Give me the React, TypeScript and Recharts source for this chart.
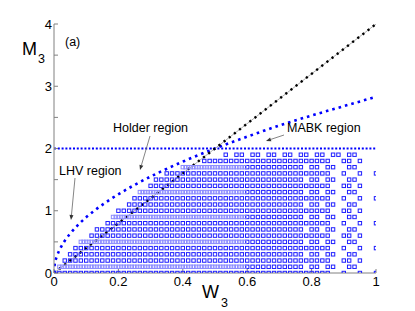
import React from 'react';
import { ComposedChart, XAxis, YAxis, Line, Scatter } from 'recharts';

const xTicks = [0, 0.2, 0.4, 0.6, 0.8, 1];
const yTicks = [0, 0.5, 1, 1.5, 2, 2.5, 3, 3.5, 4];

const diagonal = [
  { w: 0, m: 0 },
  { w: 1, m: 4 },
];
const mabkLevel = [
  { w: 0, m: 2 },
  { w: 1, m: 2 },
];
const holderCurve = [
  { w: 0, m: 0 },
  { w: 0.002, m: 0.13 },
  { w: 0.01, m: 0.28 },
  { w: 0.02, m: 0.4 },
  { w: 0.035, m: 0.53 },
  { w: 0.05, m: 0.63 },
  { w: 0.08, m: 0.8 },
  { w: 0.125, m: 1.0 },
  { w: 0.18, m: 1.2 },
  { w: 0.245, m: 1.4 },
  { w: 0.32, m: 1.6 },
  { w: 0.405, m: 1.8 },
  { w: 0.5, m: 2.0 },
  { w: 0.6, m: 2.19 },
  { w: 0.7, m: 2.37 },
  { w: 0.8, m: 2.53 },
  { w: 0.9, m: 2.68 },
  { w: 1.0, m: 2.83 },
];

// scatter grid rows (M3 levels), where each row starts (W3) and its pattern type
const rowM = [0, 0.1, 0.2, 0.3, 0.4, 0.5, 0.6, 0.7, 0.8, 0.9, 1.0, 1.1, 1.2, 1.3, 1.4, 1.5, 1.6, 1.7, 1.8, 1.9];
const rowStartW = [0.0, 0.01, 0.025, 0.045, 0.065, 0.082, 0.11, 0.13, 0.152, 0.175, 0.2, 0.222, 0.245, 0.262, 0.288, 0.305, 0.34, 0.395, 0.455, 0.52];
const rowType = ['D', 'C', 'B', 'A', 'D', 'C', 'B', 'A', 'D', 'C', 'B', 'A', 'D', 'C', 'B', 'A', 'D', 'C', 'B', 'P'];
const colStep = 1 / 60;
const fuzzyEndCol = 36;
const denseEndCol: Record<string, number> = { A: 46, B: 51, C: 46, D: 51, P: 0 };
const tailCols: Record<string, number[]> = {
  A: [48, 49, 51, 52, 55, 56],
  B: [54, 55, 57],
  C: [48, 49, 51, 52, 55, 56],
  D: [54, 57, 60],
  P: [31, 32, 34, 35, 37, 38, 40, 41, 43, 44, 46, 47, 49, 50, 52, 53, 55, 56],
};

const gridPoints: { w: number; m: number; f: boolean }[] = [];
rowM.forEach((m, i) => {
  const t = rowType[i];
  const k0 = Math.ceil(rowStartW[i] / colStep - 1e-9);
  const cols = new Map<number, boolean>();
  for (let k = k0; k <= denseEndCol[t]; k++) cols.set(k, t === 'C' && k < fuzzyEndCol);
  if (t === 'C') for (let k = k0; k < fuzzyEndCol; k++) cols.set(k + 0.5, true);
  tailCols[t].forEach((k) => {
    if (k >= k0) cols.set(k, false);
  });
  cols.forEach((f, k) => gridPoints.push({ w: k * colStep, m, f }));
});

const font = '"Liberation Sans", Arial, sans-serif';
const axisGray = '#808080';

const Square = (p: any) => (
  <rect
    x={p.cx - 1.7}
    y={p.cy - 1.7}
    width={3.4}
    height={3.4}
    fill="none"
    stroke={p.payload && p.payload.f ? '#8c8cff' : '#1f1fff'}
    strokeWidth={1}
  />
);

const Arrow = ({ x1, y1, x2, y2 }: { x1: number; y1: number; x2: number; y2: number }) => {
  const a = Math.atan2(y2 - y1, x2 - x1);
  const L = 5;
  const W = 2;
  const bx = x2 - L * Math.cos(a);
  const by = y2 - L * Math.sin(a);
  const px = -Math.sin(a) * W;
  const py = Math.cos(a) * W;
  return (
    <g>
      <line x1={x1} y1={y1} x2={bx} y2={by} stroke="#666" strokeWidth={0.8} />
      <polygon points={`${x2},${y2} ${bx + px},${by + py} ${bx - px},${by - py}`} fill="#333" />
    </g>
  );
};

export default function App() {
  return (
    <div style={{ position: 'absolute', left: 0, top: 0, width: 415, height: 311, background: '#fff' }}>
      <ComposedChart width={415} height={311} margin={{ top: 24, right: 39, bottom: 8, left: 24 }}>
        <XAxis
          xAxisId="b"
          type="number"
          dataKey="w"
          domain={[0, 1]}
          ticks={xTicks}
          allowDataOverflow
          height={30}
          tickSize={-4}
          tickMargin={8}
          stroke={axisGray}
          tick={{ fill: '#000', fontSize: 13, fontFamily: font }}
          tickFormatter={(v: number) => String(v)}
        />
        <XAxis
          xAxisId="t"
          orientation="top"
          type="number"
          domain={[0, 1]}
          ticks={xTicks}
          allowDataOverflow
          height={0}
          tickSize={-4}
          stroke={axisGray}
          tickFormatter={() => ''}
        />
        <YAxis
          yAxisId="l"
          type="number"
          domain={[0, 4]}
          ticks={yTicks}
          allowDataOverflow
          width={30}
          tickSize={-4}
          tickMargin={6}
          stroke={axisGray}
          tick={{ fill: '#000', fontSize: 13, fontFamily: font }}
          tickFormatter={(v: number) => (Number.isInteger(v) ? String(v) : '')}
        />
        <YAxis
          yAxisId="r"
          orientation="right"
          type="number"
          domain={[0, 4]}
          ticks={yTicks}
          allowDataOverflow
          width={0}
          tickSize={-4}
          stroke={axisGray}
          tickFormatter={() => ''}
        />
        <Scatter
          xAxisId="b"
          yAxisId="l"
          data={gridPoints}
          dataKey="m"
          shape={Square}
          isAnimationActive={false}
        />
        <Line
          xAxisId="b"
          yAxisId="l"
          data={mabkLevel}
          dataKey="m"
          type="linear"
          stroke="#0000ff"
          strokeWidth={2.2}
          strokeDasharray="2 1.8"
          dot={false}
          isAnimationActive={false}
        />
        <Line
          xAxisId="b"
          yAxisId="l"
          data={holderCurve}
          dataKey="m"
          type="monotone"
          stroke="#0000ff"
          strokeWidth={2.6}
          strokeDasharray="2.6 4"
          dot={false}
          isAnimationActive={false}
        />
        <Line
          xAxisId="b"
          yAxisId="l"
          data={diagonal}
          dataKey="m"
          type="linear"
          stroke="#999"
          strokeWidth={0.8}
          dot={false}
          isAnimationActive={false}
        />
        <Line
          xAxisId="b"
          yAxisId="l"
          data={diagonal}
          dataKey="m"
          type="linear"
          stroke="#000"
          strokeWidth={2.4}
          strokeDasharray="2.2 4.3"
          dot={false}
          isAnimationActive={false}
        />
      </ComposedChart>
      <svg
        width={415}
        height={311}
        style={{ position: 'absolute', left: 0, top: 0, pointerEvents: 'none' }}
        fontFamily={font}
      >
        <text x={65} y={46} fontSize={12.5} fill="#000">(a)</text>
        <text x={22} y={55} fontSize={18} fill="#000">M</text>
        <text x={38} y={63} fontSize={12.5} fill="#000">3</text>
        <text x={202} y={298} fontSize={18} fill="#000">W</text>
        <text x={221} y={307} fontSize={12.5} fill="#000">3</text>
        <text x={59} y={175} fontSize={12.5} fill="#000">LHV region</text>
        <text x={113} y={132} fontSize={12.5} fill="#000">Holder region</text>
        <text x={287} y={132} fontSize={12.5} fill="#000">MABK region</text>
        <Arrow x1={75} y1={178} x2={71} y2={220} />
        <Arrow x1={150} y1={136} x2={140} y2={170} />
        <Arrow x1={284} y1={135} x2={266} y2={141} />
      </svg>
    </div>
  );
}
